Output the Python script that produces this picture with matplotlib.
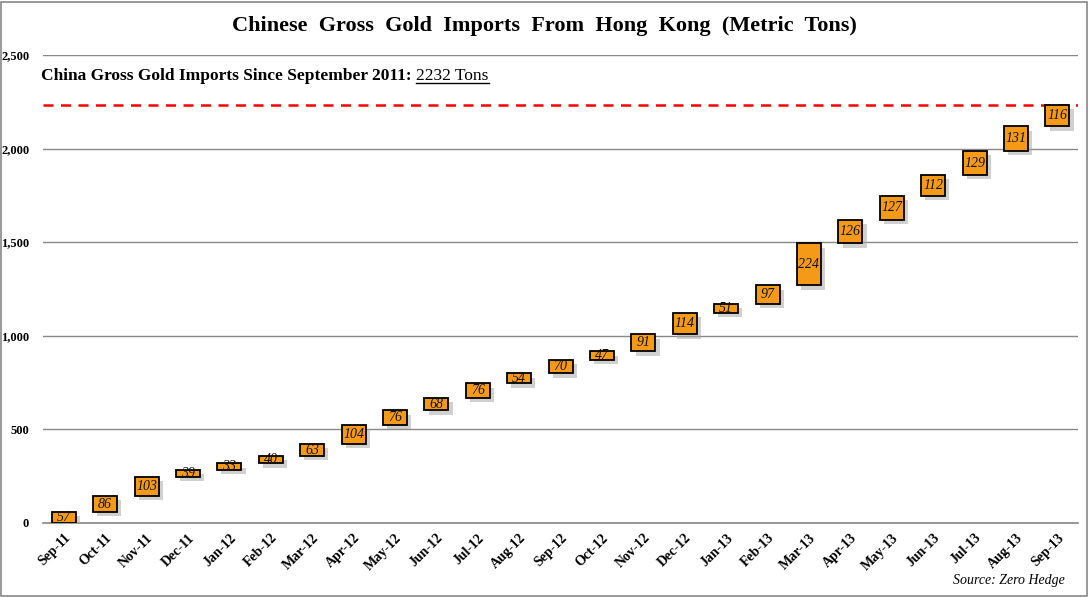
import numpy as np
import matplotlib.pyplot as plt
import matplotlib.patheffects as pe
from matplotlib.patches import Rectangle

# monthly gross imports (tons), waterfall
months = ['Sep-11', 'Oct-11', 'Nov-11', 'Dec-11', 'Jan-12', 'Feb-12', 'Mar-12',
          'Apr-12', 'May-12', 'Jun-12', 'Jul-12', 'Aug-12', 'Sep-12', 'Oct-12',
          'Nov-12', 'Dec-12', 'Jan-13', 'Feb-13', 'Mar-13', 'Apr-13', 'May-13',
          'Jun-13', 'Jul-13', 'Aug-13', 'Sep-13']
imports = [57, 86, 103, 39, 33, 40, 63, 104, 76, 68, 76, 54, 70, 47, 91, 114,
           51, 97, 224, 126, 127, 112, 129, 131, 116]
total_tons = 2232
y_ticks = [0, 500, 1000, 1500, 2000, 2500]

SERIF = ['Liberation Serif', 'DejaVu Serif']
plt.rcParams['font.family'] = SERIF

fig = plt.figure(figsize=(10.89, 5.97), dpi=100)
ax = fig.add_axes([0.0395, 0.124, 0.9505, 0.784])

x = np.arange(len(months))
vals = np.array(imports, dtype=float)
bottoms = np.concatenate([[0], np.cumsum(vals)[:-1]])

shadow = [pe.SimplePatchShadow(offset=(3, -3), shadow_rgbFace='#aaaaaa', alpha=0.55), pe.Normal()]
bars = ax.bar(x, vals, bottom=bottoms, width=0.58, color='#F59A16',
              edgecolor='black', linewidth=1.3, zorder=3)
for b in bars:
    b.set_path_effects(shadow)

for xi, b0, v in zip(x, bottoms, vals):
    ax.text(xi, b0 + v / 2, f'{int(v)}', ha='center', va='center',
            fontsize=10, style='italic', color='#111111', zorder=4)

# red dashed total line
ax.axhline(total_tons, color='#FF0000', linestyle=(0, (4, 3)), linewidth=1.8, zorder=2)
ax.axhline(0, color='#888888', linewidth=1.2, zorder=1, clip_on=False)

ax.set_xlim(-0.5, len(months) - 0.5)
ax.set_ylim(0, 2500)
ax.set_yticks(y_ticks)
ax.set_yticklabels([f'{t:,}' for t in y_ticks], fontsize=9, fontweight='bold')
ax.set_xticks(x)
ax.set_xticklabels(months, rotation=45, ha='right', rotation_mode='anchor',
                   fontsize=10, fontweight='bold')
ax.tick_params(axis='both', length=0)
ax.tick_params(axis='y', pad=10)
ax.tick_params(axis='x', pad=6)
ax.grid(axis='y', color='#888888', linewidth=1.0, zorder=0)
for s in ax.spines.values():
    s.set_visible(False)

fig.text(0.5, 0.957, 'Chinese  Gross  Gold  Imports  From  Hong  Kong  (Metric  Tons)',
         ha='center', va='center', fontsize=16, fontweight='bold')

t1 = fig.text(0.038, 0.872, 'China Gross Gold Imports Since September 2011: ',
              ha='left', va='center', fontsize=12.5, fontweight='bold')
fig.canvas.draw()
bb = t1.get_window_extent()
x2 = bb.x1 / fig.bbox.width
t2 = fig.text(x2, 0.872, f'{total_tons} Tons', ha='left', va='center',
              fontsize=12.5, fontweight='normal')
fig.canvas.draw()
bb2 = t2.get_window_extent()
uy = (bb2.y0 + 1) / fig.bbox.height
fig.add_artist(plt.Line2D([bb2.x0 / fig.bbox.width, bb2.x1 / fig.bbox.width], [uy, uy],
                          color='black', linewidth=1.0, transform=fig.transFigure))

fig.text(0.978, 0.027, 'Source: Zero Hedge', ha='right', va='center',
         fontsize=10, style='italic')

# outer border
fig.add_artist(Rectangle((0.001, 0.002), 0.997, 0.995, transform=fig.transFigure,
                         fill=False, edgecolor='#888888', linewidth=1.2))

fig.savefig('out.png', dpi=100)
